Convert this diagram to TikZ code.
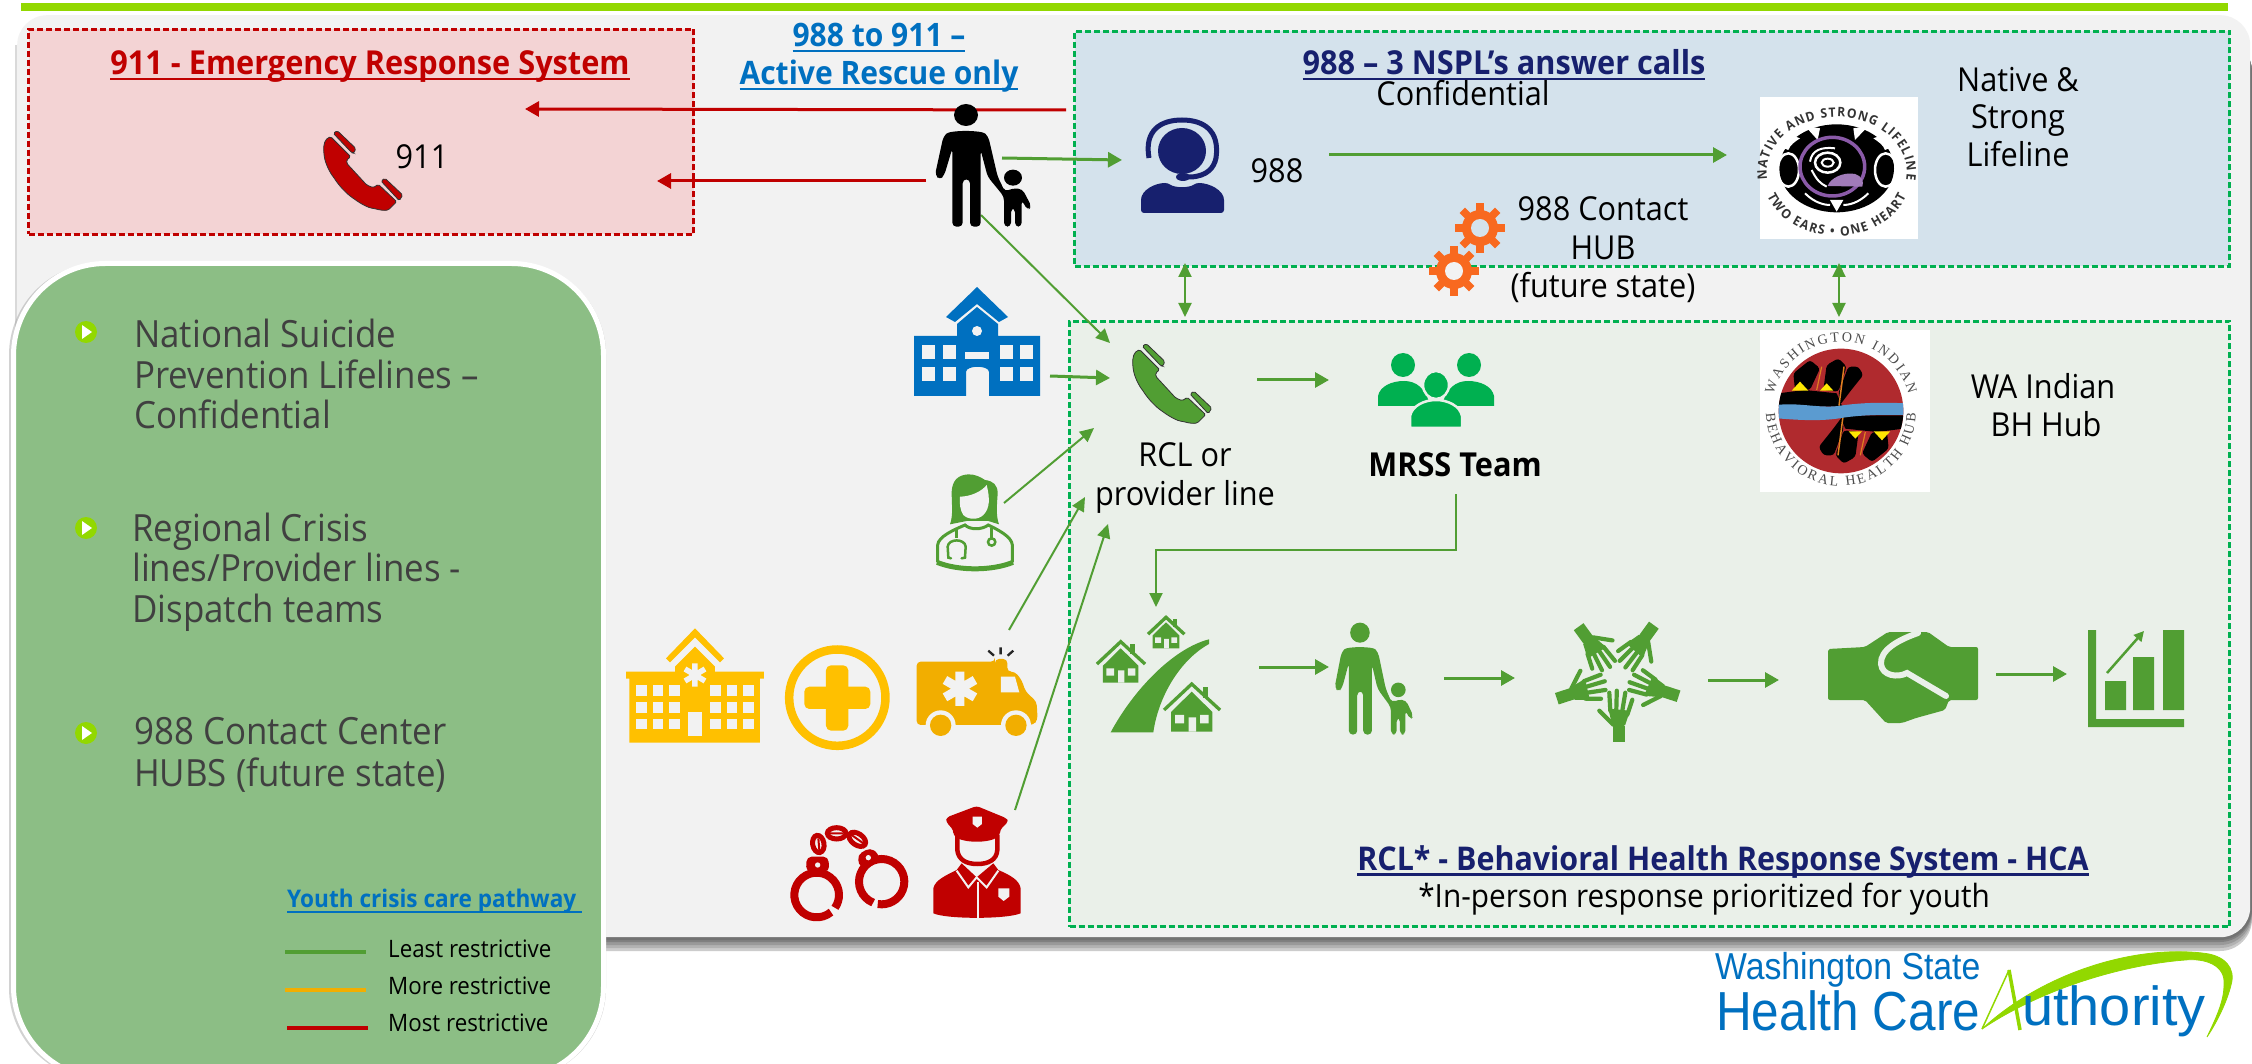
\documentclass[tikz,border=0pt]{standalone}
\usepackage{fontspec}
\setmainfont[FakeStretch=0.93]{Open Sans}
\newfontfamily\logofont[FakeStretch=0.9]{Liberation Sans}
\newfontfamily\serifring{Liberation Serif}
\usetikzlibrary{arrows.meta,decorations.text}
\definecolor{barGreen}{HTML}{92D800}
\definecolor{panelGray}{HTML}{F2F2F2}
\definecolor{redFill}{HTML}{F3D3D4}
\definecolor{blueFill}{HTML}{D4E2EC}
\definecolor{greenFill}{HTML}{EAF0E9}
\definecolor{sideGreen}{HTML}{8CBE85}
\definecolor{dashGreen}{HTML}{00B050}
\definecolor{pathGreen}{HTML}{519E33}
\definecolor{hcaRed}{HTML}{C00000}
\definecolor{hcaBlue}{HTML}{0070C0}
\definecolor{navy}{HTML}{17206E}
\definecolor{gearOrange}{HTML}{F8691F}
\definecolor{amberA}{HTML}{FFC000}
\definecolor{amberB}{HTML}{F2AE00}
\definecolor{bodyGray}{HTML}{404040}
\definecolor{logoPurple}{HTML}{8A5AA8}
\definecolor{logoRed}{HTML}{B02A2E}
\definecolor{logoBlue}{HTML}{5B9BD0}
\newcommand{\ulx}[2][2.5pt]{\leavevmode\setbox0=\hbox{#2}\rlap{\lower5.5pt\hbox{\vrule width\wd0 height #1 depth 0pt}}\box0}
\tikzset{
  box/.style={anchor=north west,inner sep=0pt,line width=3pt,dash pattern=on 6pt off 3pt},
  lab/.style={inner sep=0pt,align=center,text=black,font=\fontsize{33}{38.5}\selectfont},
  side/.style={inner sep=0pt,align=left,anchor=west,text=bodyGray,font=\fontsize{37.5}{40.5}\selectfont},
  legendtxt/.style={inner sep=0pt,anchor=west,text=black,font=\fontsize{24}{26}\selectfont},
  garrow/.style={draw=pathGreen,line width=3pt,-{Triangle[length=14pt,width=15pt]}},
  gthin/.style={draw=pathGreen,line width=2pt,-{Triangle[length=14pt,width=13pt]}},
  gboth/.style={draw=pathGreen,line width=2pt,{Triangle[length=14pt,width=13pt]}-{Triangle[length=14pt,width=13pt]}},
  rarrow/.style={draw=hcaRed,line width=3pt,-{Triangle[length=14pt,width=15pt]}},
  pics/phone/.style={code={
    \fill[#1,draw=black!80,line width=.8pt,rounded corners=1.5pt] (7.7,6.7) .. controls (2,9) and (0,14) .. (1,24) .. controls (2,34) and (8,44) .. (10.3,46.7) .. controls (16,56) and (24,64) .. (30.3,68.3) .. controls (38,74) and (46,78) .. (50.3,78.3) .. controls (58,80.5) and (62,80.5) .. (65.3,80) -- (73.7,71.7) -- (55.3,54.3) -- (50.3,57.7) -- (43.7,55) -- (23.7,33.3) -- (23.7,30) -- (27.7,26.7) -- cycle;
    \fill[#1,draw=black!80,line width=.8pt,rounded corners=1.5pt] (10.3,3.3) -- (14.3,.7) -- (32.7,18.3) -- (31,23.3) -- (28.7,22.7) -- cycle;
    \fill[#1,draw=black!80,line width=.8pt,rounded corners=1.5pt] (58,51) -- (62,48.3) -- (79.7,65) -- (76.3,70.7) -- cycle;
  }},
  pics/family/.style={code={
    \begin{scope}[scale=.3333]
    \fill[#1] (123,60) ellipse [x radius=36,y radius=33];
    \fill[#1,rounded corners=4pt] (55,125) .. controls (75,105) and (170,105) .. (190,125) -- (218,245) -- (240,290) -- (262,280) -- (292,282) -- (320,335) -- (308,346) -- (290,315) -- (290,395) -- (270,395) -- (270,340) -- (258,340) -- (258,395) -- (237,395) -- (237,305) -- (188,245) -- (167,165) -- (167,395) -- (135,395) -- (135,253) -- (113,253) -- (113,395) -- (82,395) -- (82,160) -- (58,240) -- (45,255) -- (30,240) -- cycle;
    \fill[#1] (264,248) ellipse [x radius=27,y radius=24];
    \end{scope}
  }},
  pics/gearicon/.style={code={
    \fill[gearOrange] (0,0) circle (18);
    \foreach \a in {0,45,...,315}{\draw[gearOrange,line width=7.5pt] (0,0) ++(\a:15) -- ++(\a:10);}
    \fill[#1] (0,0) circle (9);
  }},
  pics/house/.style={code={
    \begin{scope}[scale=.3333]
    \draw[pathGreen,line width=3.3pt] (-83,78) -- (0,0) -- (85,78);
    \fill[pathGreen] (33,8) rectangle (50,43);
    \fill[pathGreen] (0,23) -- (62,84) -- (62,143) -- (-62,143) -- (-62,84) -- cycle;
    \fill[greenFill] (-50,93) rectangle (-23,118) (25,93) rectangle (51,118) (-9,100) rectangle (13,143);
    \end{scope}
  }},
  pics/hand/.style={code={
    \fill[pathGreen] (-4.7,48) rectangle (7.3,64);
    \fill[pathGreen,rounded corners=2pt] (-9,31) -- (12.7,33) -- (7.3,49) -- (-4.7,49) -- cycle;
    \draw[pathGreen,line width=4.2pt,line cap=round,line join=round] (-7,33) -- (-8,15) (-1,32) -- (-.5,13) (5,33) -- (8,15) (10,37) -- (15,22) (-4,47) -- (-12,39) -- (-18,33);
  }},
}
\begin{document}
\begin{tikzpicture}[x=1pt,y=-1pt]
\path[use as bounding box,clip] (0,0) rectangle (2252,1064);
\fill[white] (0,0) rectangle (2252,1064);

% ---- header and panel
\fill[barGreen] (21,3) rectangle (2228,11);
\foreach \d/\g in {14/20,11/30,8/40,5/50,3/55}{
  \fill[black!\g,rounded corners=32pt] (17,40) rectangle (2252,937+\d);
}
\fill[black!15] (15,45) rectangle (20,900);
\node[anchor=north west,inner sep=0pt,minimum width=2233pt,minimum height=922pt,fill=panelGray,rounded corners=30pt] (panel) at (17,15) {};

% ---- boxes
\node[box,draw=hcaRed,fill=redFill,minimum width=665pt,minimum height=205pt] (redbox) at (27,28) {};
\node[box,draw=dashGreen,fill=blueFill,minimum width=1155pt,minimum height=235pt] (bluebox) at (1073,30) {};
\node[box,draw=dashGreen,fill=greenFill,minimum width=1160pt,minimum height=605pt] (greenbox) at (1068,320) {};

% ---- connector ends
\coordinate (r1a) at (1066,110); \coordinate (r1b) at (525,109);
\coordinate (r2a) at (926,181);  \coordinate (r2b) at (657,181);
\coordinate (g1a) at (1002,158); \coordinate (g1b) at (1122,160);
\coordinate (g2a) at (981,215);  \coordinate (g2b) at (1110,343);
\coordinate (g3a) at (1050,376); \coordinate (g3b) at (1110,378);
\coordinate (g4a) at (1004,503); \coordinate (g4b) at (1094,428);
\coordinate (g5a) at (1009,630); \coordinate (g5b) at (1085,497);
\coordinate (g6a) at (1015,810); \coordinate (g6b) at (1108,524);
\coordinate (g7a) at (1329,155); \coordinate (g7b) at (1727,155);
\coordinate (d1a) at (1185,263); \coordinate (d1b) at (1185,317);
\coordinate (d2a) at (1839,263); \coordinate (d2b) at (1839,317);
\coordinate (g8a) at (1257,380); \coordinate (g8b) at (1329,380);
\coordinate (e1a) at (1456,494); \coordinate (e1b) at (1156,607);
\coordinate (s1a) at (1259,667); \coordinate (s1b) at (1329,667);
\coordinate (s2a) at (1444,678); \coordinate (s2b) at (1515,678);
\coordinate (s3a) at (1708,680); \coordinate (s3b) at (1779,680);
\coordinate (s4a) at (1996,674); \coordinate (s4b) at (2067,674);

\draw[rarrow] (r1a) -- (r1b);
\draw[rarrow] (r2a) -- (r2b);
\draw[garrow] (g1a) -- (g1b);
\draw[gthin] (g2a) -- (g2b);
\draw[garrow] (g3a) -- (g3b);
\draw[gthin] (g4a) -- (g4b);
\draw[gthin] (g5a) -- (g5b);
\draw[gthin] (g6a) -- (g6b);
\draw[garrow] (g7a) -- (g7b);
\draw[gboth] (d1a) -- (d1b);
\draw[gboth] (d2a) -- (d2b);
\draw[garrow] (g8a) -- (g8b);
\draw[gthin] (e1a) |- (1156,550) -- (e1b);
\draw[garrow] (s1a) -- (s1b);
\draw[garrow] (s2a) -- (s2b);
\draw[garrow] (s3a) -- (s3b);
\draw[garrow] (s4a) -- (s4b);

% ---- icons: phones and families
\pic at (323,130) {phone=hcaRed};
\pic at (1132,343) {phone=pathGreen};
\pic at (925,95) {family=black};
\pic[xscale=.816,yscale=.913] at (1326.5,614.4) {family=pathGreen};

% ---- agent
\begin{scope}[shift={(1141,118)}]
  \fill[navy] (41,33) ellipse [x radius=24,y radius=23];
  \draw[navy,line width=5pt] (8,40) .. controls (3,12) and (20,2) .. (41,2) .. controls (62,2) and (79,12) .. (75,40) .. controls (73,50) and (66,58) .. (50,59) -- (42,59);
  \fill[navy] (42,59) ellipse [x radius=7,y radius=4];
  \fill[navy,rounded corners=3pt] (0,95) -- (0,85) .. controls (0,72) and (14,65) .. (27,65) .. controls (34,70) and (48,70) .. (55,65) .. controls (68,65) and (83,72) .. (83,85) -- (83,95) -- cycle;
\end{scope}

% ---- gears
\pic at (1454,271) {gearicon=panelGray};
\pic at (1480,228) {gearicon=blueFill};

% ---- school
\begin{scope}[shift={(914,287)}]
  \fill[hcaBlue] (63,0) -- (94,30) -- (85,35) -- (63,17) -- (41,35) -- (32,30) -- cycle;
  \fill[hcaBlue] (63,20) -- (84,37) -- (84,49) -- (126,49) -- (126,109) -- (75,109) -- (75,85) .. controls (75,78) and (52,78) .. (52,85) -- (52,109) -- (0,109) -- (0,49) -- (43,49) -- (43,37) -- cycle;
  \fill[panelGray] (63,44) ellipse [x radius=5,y radius=5];
  \foreach \x in {8,29,86,106}{\fill[panelGray] (\x,58) rectangle +(13,14); \fill[panelGray] (\x,80) rectangle +(13,14);}
  \fill[panelGray] (51,65) rectangle (75,72);
\end{scope}

% ---- doctor
\begin{scope}[shift={(925,465)},scale=.3333]
  \fill[pathGreen] (130,28) .. controls (95,30) and (82,50) .. (80,80) .. controls (80,120) and (85,150) .. (75,178) -- (125,168) -- (190,168) -- (222,178) .. controls (212,150) and (216,120) .. (218,85) .. controls (218,60) and (205,48) .. (180,45) .. controls (165,35) and (150,28) .. (130,28) -- cycle;
  \fill[panelGray] (105,95) .. controls (135,95) and (170,80) .. (185,60) .. controls (195,100) and (195,130) .. (175,150) .. controls (160,165) and (130,165) .. (115,150) .. controls (105,135) and (103,115) .. (105,95) -- cycle;
  \draw[pathGreen,line width=3pt] (38,292) -- (38,240) .. controls (40,215) and (85,195) .. (120,180) .. controls (135,195) and (170,195) .. (190,180) .. controls (220,195) and (260,215) .. (262,240) -- (262,292);
  \draw[pathGreen,line width=5pt] (36,292) .. controls (100,318) and (200,318) .. (264,292);
  \draw[pathGreen,line width=2.5pt] (95,190) -- (95,218);
  \draw[pathGreen,line width=2.5pt,line cap=round] (78,280) -- (70,278) -- (68,245) .. controls (70,220) and (120,220) .. (122,245) -- (120,278) -- (110,280);
  \draw[pathGreen,line width=2.5pt] (200,190) -- (200,218);
  \draw[pathGreen,line width=2.5pt] (200,231) circle (11);
\end{scope}

% ---- hospital, plus, ambulance (zoom coordinates)
\begin{scope}[shift={(620,620)},scale=.3333]
  \fill[amberA] (225,25) -- (312,115) -- (300,127) -- (225,52) -- (150,127) -- (138,115) -- cycle;
  \fill[amberA] (225,80) -- (285,140) -- (285,155) -- (432,155) -- (432,176) -- (420,176) -- (420,368) -- (28,368) -- (28,176) -- (18,176) -- (18,155) -- (165,155) -- (165,140) -- cycle;
  \foreach \y in {195,246,296}{\foreach \x in {48,98,148,270,320,370}{\fill[panelGray] (\x,\y) rectangle +(32,32);}}
  \fill[panelGray] (204,276) rectangle (246,348);
  \draw[panelGray,line width=5.5pt] (225,130) -- (225,200) (195,147) -- (255,183) (195,183) -- (255,147);
  \draw[amberA,line width=8.5pt] (652,233) circle (144.5);
  \fill[amberA,rounded corners=5pt] (618,136) rectangle (685,332);
  \fill[amberA,rounded corners=5pt] (553,200) rectangle (751,267);
  \draw[black!85,line width=2.3pt] (1105,92) -- (1122,107) (1142,82) -- (1142,103) (1180,92) -- (1163,107);
  \fill[amberB,rounded corners=4pt] (890,125) -- (1125,125) -- (1125,117) -- (1162,117) -- (1162,155) -- (1185,155) -- (1205,180) -- (1217,215) -- (1250,245) -- (1253,300) -- (1240,315) -- (890,315) -- cycle;
  \fill[panelGray] (1143,170) -- (1185,170) -- (1198,217) -- (1143,217) -- cycle;
  \draw[panelGray,line width=9pt] (1020,155) -- (1020,258) (975,180) -- (1065,232) (975,232) -- (1065,180);
  \fill[panelGray] (962,316) circle (45) (1188,316) circle (45);
  \fill[panelGray] (915,316) rectangle (1235,350);
  \fill[amberB] (962,316) circle (32) (1188,316) circle (32);
\end{scope}

% ---- handcuffs and police (zoom coordinates)
\begin{scope}[shift={(780,800)},scale=.3333]
  \draw[hcaRed,line width=8pt] (110,285) ++(50:67) arc [start angle=50,end angle=395,radius=67];
  \draw[hcaRed,line width=8pt] (305,245) ++(112:68) arc [start angle=112,end angle=460,radius=68];
  \fill[hcaRed,rounded corners=5pt] (80,170) -- (145,170) -- (148,215) -- (78,215) -- cycle;
  \fill[hcaRed,rounded corners=5pt] (232,165) -- (270,143) -- (295,160) -- (300,185) -- (240,205) -- cycle;
  \fill[panelGray] (113,195) circle (8) (265,173) circle (8);
  \draw[hcaRed,line width=5pt,rotate around={10:(115,132)}] (115,132) ellipse [x radius=17,y radius=26];
  \draw[hcaRed,line width=5pt] (170,100) ellipse [x radius=28,y radius=17];
  \draw[hcaRed,line width=5pt,rotate around={-35:(232,118)}] (232,118) ellipse [x radius=28,y radius=17];
  \draw[hcaRed,line width=2pt] (150,100) -- (190,100) (215,105) -- (250,130) (115,115) -- (118,150);
  \fill[hcaRed,rounded corners=3pt] (590,18) -- (680,55) -- (685,65) -- (660,90) -- (660,105) .. controls (630,130) and (550,130) .. (520,105) -- (520,90) -- (498,65) -- (500,52) -- cycle;
  \fill[panelGray] (578,50) -- (606,50) -- (606,72) -- (592,83) -- (578,72) -- cycle;
  \draw[hcaRed,line width=4.5pt] (532,105) -- (532,150) .. controls (535,180) and (560,192) .. (592,192) .. controls (625,192) and (650,180) .. (652,150) -- (652,105);
  \fill[hcaRed] (460,340) -- (460,265) .. controls (465,240) and (500,225) .. (530,210) -- (545,190) -- (590,232) -- (640,190) -- (655,210) .. controls (690,225) and (718,240) .. (722,265) -- (722,340) .. controls (680,358) and (500,358) .. (460,340) -- cycle;
  \draw[panelGray,line width=2pt] (530,212) -- (565,262) -- (590,232) -- (620,262) -- (655,212);
  \draw[panelGray,line width=2pt] (595,245) -- (595,360);
  \fill[panelGray] (655,265) -- (688,265) -- (688,290) -- (671,303) -- (655,290) -- cycle;
\end{scope}

% ---- houses, road
\begin{scope}[shift={(1090,610)},scale=.3333]
  \fill[pathGreen] (62,367) .. controls (130,240) and (250,115) .. (357,88) -- (357,102) .. controls (270,150) and (205,260) .. (190,367) -- cycle;
\end{scope}
\pic[scale=.65] at (1166,617.3) {house};
\pic[scale=.86] at (1120.7,641.7) {house};
\pic at (1191.7,684) {house};

% ---- hands
\foreach \r in {0,72,144,216,288}{\pic[rotate=\r] at (1617.3,677.7) {hand};}

% ---- handshake
\begin{scope}[shift={(1828,632)}]
  \fill[pathGreen,rounded corners=2pt] (0,17) -- (37,15) -- (60,0) -- (100,0) -- (121,15) -- (150,15) -- (150,68) -- (121,68) -- (117,78) -- (88,86) -- (74,91) -- (58,91) -- (37,68) -- (0,68) -- cycle;
  \draw[greenFill,line width=6pt,line cap=round] (90,1) .. controls (70,8) and (52,18) .. (53,32) .. controls (54,44) and (70,46) .. (79,41) -- (118,64);
\end{scope}

% ---- chart
\begin{scope}[shift={(2088,630)}]
  \fill[pathGreen] (0,0) rectangle (8,97) (0,89) rectangle (96,97);
  \fill[pathGreen] (17,51) rectangle (38,80) (45,27) rectangle (66,80) (75,0) rectangle (96,80);
  \draw[pathGreen,line width=2.5pt,-{Triangle[length=10pt,width=10pt]}] (19,43) -- (56,1);
\end{scope}

% ---- MRSS team
\fill[dashGreen] (1403,365) ellipse [x radius=12,y radius=12];
\fill[dashGreen] (1469,365) ellipse [x radius=12,y radius=12];
\fill[dashGreen] (1378,406) -- (1378,396) .. controls (1380,386) and (1392,381) .. (1404,381) .. controls (1416,381) and (1426,388) .. (1430,406) -- cycle;
\fill[dashGreen] (1494,406) -- (1494,396) .. controls (1492,386) and (1480,381) .. (1468,381) .. controls (1456,381) and (1446,388) .. (1442,406) -- cycle;
\filldraw[dashGreen,draw=greenFill,line width=2.5pt] (1436,385) ellipse [x radius=13,y radius=14];
\filldraw[dashGreen,draw=greenFill,line width=2.5pt] (1410,428) -- (1410,416) .. controls (1412,406) and (1424,400) .. (1436,400) .. controls (1448,400) and (1460,406) .. (1462,416) -- (1462,428) -- cycle;

% ---- Native logo (zoom coordinates)
\node[anchor=north west,inner sep=0pt,fill=white,minimum width=158pt,minimum height=142pt] (nativelogo) at (1760,97) {};
\begin{scope}[shift={(1755,90)},scale=.3333]
  \fill[black] (245,235) ellipse [x radius=172,y radius=132];
  \draw[white,line width=2.5pt] (100,240) ellipse [x radius=32,y radius=50];
  \draw[white,line width=2.5pt] (392,240) ellipse [x radius=32,y radius=50];
  \fill[white] (150,108) -- (195,115) -- (188,150) -- cycle (340,108) -- (295,115) -- (300,150) -- cycle;
  \fill[white] (75,170) .. controls (90,140) and (115,135) .. (135,145) .. controls (120,155) and (105,165) .. (100,180) -- cycle;
  \fill[white] (415,170) .. controls (400,140) and (375,135) .. (355,145) .. controls (370,155) and (385,165) .. (390,180) -- cycle;
  \fill[white] (225,330) -- (265,330) -- (245,365) -- cycle;
  \draw[white,line width=2pt] (150,310) .. controls (180,340) and (210,345) .. (225,345) (340,310) .. controls (310,340) and (280,345) .. (265,345);
  \draw[logoPurple,line width=3.5pt] (232,230) ellipse [x radius=97,y radius=88];
  \draw[white,line width=2.5pt] (218,218) ellipse [x radius=38,y radius=30];
  \draw[white,line width=2pt] (218,218) ellipse [x radius=18,y radius=12];
  \draw[white,line width=2pt] (165,215) .. controls (170,180) and (200,170) .. (240,175);
  \draw[white,line width=2pt] (170,240) .. controls (185,270) and (195,280) .. (215,290);
  \fill[logoPurple!80!white] (218,288) .. controls (225,265) and (265,245) .. (300,252) .. controls (320,258) and (328,275) .. (322,290) -- cycle;
  \path[postaction={decorate,decoration={text along path,text align=fit to path,text={|\fontsize{13}{13}\selectfont\bfseries\color{black!80}|NATIVE AND STRONG LIFELINE}}}] (245,240) ++(172:210) arc [start angle=172,end angle=368,x radius=210,y radius=165];
  \path[postaction={decorate,decoration={text along path,text align=fit to path,text={|\fontsize{13}{13}\selectfont\bfseries\color{black!80}|TWO EARS • ONE HEART}}}] (245,235) ++(158:225) arc [start angle=158,end angle=22,x radius=225,y radius=190];
\end{scope}

% ---- WA logo (zoom coordinates)
\node[anchor=north west,inner sep=0pt,fill=white,minimum width=170pt,minimum height=162pt] (walogo) at (1760,330) {};
\begin{scope}[shift={(1755,325)},scale=.3333]
  \fill[logoRed] (258,258) circle (187);
  \begin{scope}
    \clip (258,258) circle (187);
    \foreach \r in {0,180}{
      \begin{scope}[rotate around={\r:(258,258)}]
        \fill[black] (70,205) -- (150,195) -- (245,205) -- (262,245) -- (70,245) -- cycle;
        \fill[black,rounded corners=3pt] (115,145) -- (165,105) -- (195,130) -- (165,195) -- (120,195) -- cycle;
        \fill[black,rounded corners=3pt] (215,120) -- (250,100) -- (275,125) -- (250,200) -- (205,195) -- cycle;
        \fill[black,rounded corners=3pt] (280,125) -- (310,125) -- (325,150) -- (285,200) -- (255,240) -- (250,205) -- cycle;
        \fill[yellow!90!orange] (110,197) -- (135,170) -- (160,197) -- cycle (195,197) -- (215,175) -- (235,197) -- cycle;
        \draw[orange!50!brown,line width=1.5pt] (267,125) -- (252,242);
        \draw[orange!50!brown,line width=1.2pt] (200,125) -- (185,195);
      \end{scope}
    }
    \fill[logoBlue] (65,240) .. controls (130,232) and (190,250) .. (250,243) .. controls (320,232) and (390,232) .. (450,235) -- (450,270) .. controls (390,268) and (320,270) .. (265,278) .. controls (200,290) and (130,285) .. (65,280) -- cycle;
  \end{scope}
  \path[postaction={decorate,decoration={text along path,text align=fit to path,text={|\serifring\fontsize{14}{14}\selectfont\color{black!70}|WASHINGTON INDIAN}}}] (258,258) ++(194:208) arc [start angle=194,end angle=346,radius=208];
  \path[postaction={decorate,decoration={text along path,text align=fit to path,text={|\serifring\fontsize{14}{14}\selectfont\color{black!70}|BEHAVIORAL HEALTH HUB}}}] (258,258) ++(178:225) arc [start angle=178,end angle=2,radius=225];
\end{scope}

% ---- HCA logo
\draw[barGreen,line width=.8pt,fill=barGreen] (1982,1029) .. controls (2040,975) and (2130,945) .. (2202,953) .. controls (2225,955) and (2236,968) .. (2231,985) .. controls (2226,1005) and (2215,1025) .. (2207,1037) .. controls (2215,1020) and (2224,1002) .. (2224,985) .. controls (2226,965) and (2205,958) .. (2185,960) .. controls (2120,965) and (2040,990) .. cycle;
\draw[barGreen,line width=3.5pt] (2009,970) -- (2020,1030);
\draw[barGreen,line width=1.5pt] (1982,1029) -- (2009,970);
\node[inner sep=0pt,anchor=west,text=hcaBlue,font=\logofont\fontsize{37.5}{37.5}\selectfont] (hca1) at (1715,970) {Washington State};
\node[inner sep=0pt,anchor=west,text=hcaBlue,font=\logofont\fontsize{55}{55}\selectfont] (hca2) at (1716,1011) {Health Care};
\node[inner sep=0pt,anchor=west,text=hcaBlue,font=\logofont\fontsize{55}{55}\selectfont] (hca3) at (2022,1011) {\scalebox{1.13}[1]{uthority}};

% ---- labels
\node[lab,text=hcaRed,font=\fontsize{33}{33}\selectfont\bfseries] (t911) at (370,67) {\ulx{911 - Emergency Response System}};
\node[lab,text=hcaBlue,font=\fontsize{32.3}{38}\selectfont\bfseries] (t988to) at (879,58) {\ulx{988 to 911 –}\\\ulx{Active Rescue only}};
\node[lab] (t911b) at (422,157) {911};
\node[lab,text=navy,font=\fontsize{33}{33}\selectfont\bfseries] (t3) at (1504,65) {\ulx{988 – 3 NSPL’s answer calls}};
\node[lab] (tconf) at (1463,93) {Confidential};
\node[lab,font=\fontsize{33}{37.5}\selectfont] (tnative) at (2018,117) {Native \&\\Strong\\Lifeline};
\node[lab] (t988) at (1277,171) {988};
\node[lab] (thub) at (1603,250) {988 Contact\\HUB\\(future state)};
\node[lab] (trcl) at (1185,478) {RCL or\\provider line};
\node[lab,font=\fontsize{33}{33}\selectfont\bfseries] (tmrss) at (1455,465) {MRSS Team};
\node[lab] (twa) at (2043,405) {WA Indian\\\hspace*{6pt}BH Hub};
\node[lab,text=navy,font=\fontsize{32.7}{33}\selectfont\bfseries] (trclb) at (1723,862) {\ulx{RCL* - Behavioral Health Response System - HCA}};
\node[lab,font=\fontsize{32}{32}\selectfont] (tin) at (1704,899) {*In-person response prioritized for youth};

% ---- side panel
\fill[black!35,opacity=.5,rounded corners=92pt] (9,263) rectangle (606,1080);
\node[anchor=north west,inner sep=0pt,minimum width=590pt,minimum height=815pt,draw=white,line width=5pt,fill=sideGreen,rounded corners=92pt] (sidepanel) at (11,261) {};
\foreach \n/\y in {b1/332,b2/528,b3/733}{
  \fill[barGreen] (86,\y) circle (11);
  \fill[white] (82,\y-7) -- (92,\y) -- (82,\y+7) -- cycle;
}
\node[side] (s1) at (134,374) {National Suicide\\Prevention Lifelines –\\Confidential};
\node[side] (s2) at (132,572) {Regional Crisis\\lines/Provider lines -\\Dispatch teams};
\node[side,font=\fontsize{37.5}{42}\selectfont] (s3) at (134,755) {988 Contact Center\\HUBS (future state)};
\node[inner sep=0pt,anchor=west,text=hcaBlue,font=\fontsize{24.3}{24}\selectfont\bfseries] (legt) at (287,901) {\ulx[1.5pt]{Youth crisis care pathway\ }};
\coordinate (l1a) at (285,952); \coordinate (l1b) at (366,952);
\coordinate (l2a) at (285,990); \coordinate (l2b) at (366,990);
\coordinate (l3a) at (287,1028); \coordinate (l3b) at (368,1028);
\draw[pathGreen,line width=4pt] (l1a) -- (l1b);
\draw[amberB,line width=4pt] (l2a) -- (l2b);
\draw[hcaRed,line width=4pt] (l3a) -- (l3b);
\node[legendtxt] (lg1) at (388,949) {Least restrictive};
\node[legendtxt] (lg2) at (388,986) {More restrictive};
\node[legendtxt] (lg3) at (388,1023) {Most restrictive};
\end{tikzpicture}
\end{document}
